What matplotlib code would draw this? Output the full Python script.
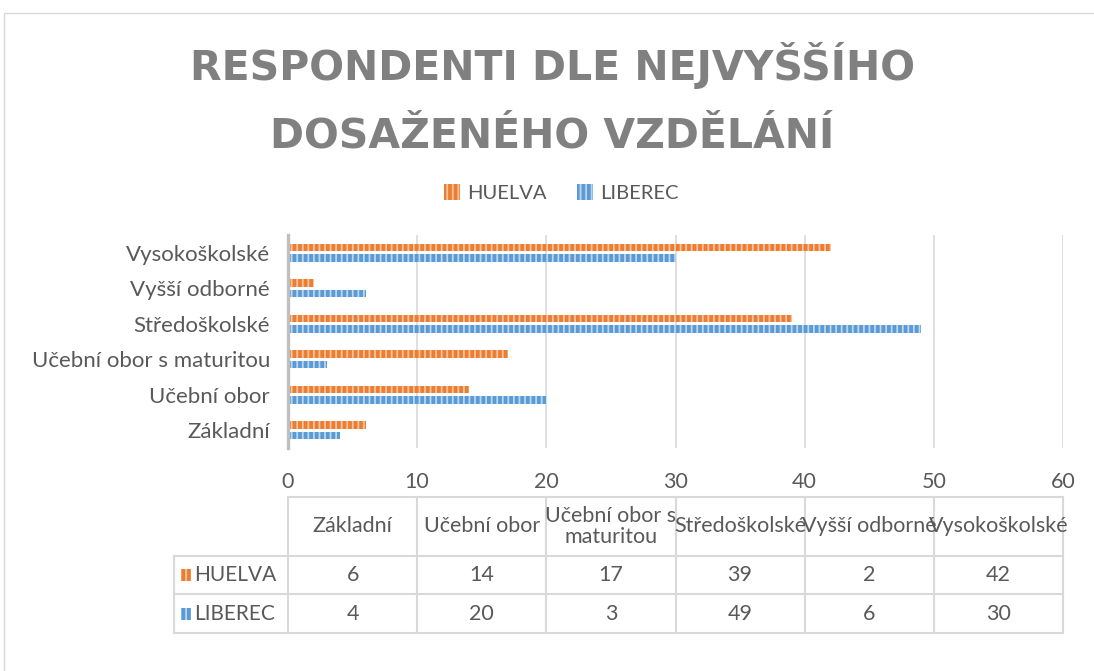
import matplotlib
matplotlib.use('Agg')
import matplotlib.pyplot as plt
import matplotlib.transforms as mtransforms
from matplotlib.patches import Rectangle
import numpy as np

plt.rcParams['font.family'] = ['Lato', 'DejaVu Sans']
plt.rcParams['hatch.linewidth'] = 1.3

# data
categories = ['Základní', 'Učební obor', 'Učební obor s maturitou',
              'Středoškolské', 'Vyšší odborné', 'Vysokoškolské']
header_labels = ['Základní', 'Učební obor', 'Učební obor s\nmaturitou',
                 'Středoškolské', 'Vyšší odborné', 'Vysokoškolské']
huelva = [6, 14, 17, 39, 2, 42]
liberec = [4, 20, 3, 49, 6, 30]
series_names = ['HUELVA', 'LIBEREC']

orange, orange_l = '#ED7D31', '#F6C4A0'
blue, blue_l = '#5B9BD5', '#BCD6EF'
txt = '#595959'
grid = '#D9D9D9'

W, H = 1094, 671
fig = plt.figure(figsize=(W / 100, H / 100), dpi=100)

# outer chart border
fig.patches.append(Rectangle((4 / W, -0.01), 1.02, 1 - 13 / H + 0.01,
                             transform=fig.transFigure, fill=False,
                             edgecolor=grid, lw=1))

ax = fig.add_axes([288 / W, 1 - 448 / H, (1063 - 288) / W, 213 / H])

y = np.arange(len(categories))
hb = ax.barh(y + 0.15, huelva, height=0.22, color=orange, edgecolor=orange_l,
             hatch='|||', lw=0, label=series_names[0], zorder=3)
lb = ax.barh(y - 0.15, liberec, height=0.22, color=blue, edgecolor=blue_l,
             hatch='|||', lw=0, label=series_names[1], zorder=3)

ax.set_xlim(0, 60)
ax.set_ylim(-0.5, 5.5)
ax.set_xticks(range(0, 61, 10))
ax.set_yticks(y)
ax.set_yticklabels(categories)
ax.tick_params(axis='y', length=0, pad=13, labelsize=16, labelcolor=txt)
ax.tick_params(axis='x', length=0, pad=17, labelsize=15.5, labelcolor=txt)
ax.grid(axis='x', color=grid, lw=1.2, zorder=0)
for s in ['top', 'right', 'bottom']:
    ax.spines[s].set_visible(False)
ax.spines['left'].set_color('#BFBFBF')
ax.spines['left'].set_linewidth(2.4)
ax.spines['left'].set_zorder(4)

fig.text(0.505, 1 - 99 / H, 'RESPONDENTI DLE NEJVYŠŠÍHO\nDOSAŽENÉHO VZDĚLÁNÍ',
         ha='center', va='center', fontsize=29.5, fontweight='bold',
         color='#808080', linespacing=1.9, family=['DejaVu Sans'])

fig.legend(handles=[hb, lb], loc='center', bbox_to_anchor=(561 / W, 1 - 193 / H),
           ncol=2, frameon=False, fontsize=14.5, labelcolor=txt,
           handlelength=0.8, handleheight=0.8, handletextpad=0.35,
           columnspacing=1.5)

# data table under the axis
tr = mtransforms.blended_transform_factory(ax.transData, fig.transFigure)
def fy(px):
    return 1 - px / H

x_lab = -8.85
rows_px = [497, 556, 594, 633]
kw = dict(color=grid, lw=1.5, transform=tr, clip_on=False)
ax.plot([0, 60], [fy(rows_px[0])] * 2, **kw)
for r in rows_px[1:]:
    ax.plot([x_lab, 60], [fy(r)] * 2, **kw)
for c in range(0, 61, 10):
    ax.plot([c, c], [fy(rows_px[0]), fy(rows_px[-1])], **kw)
ax.plot([x_lab, x_lab], [fy(rows_px[1]), fy(rows_px[-1])], **kw)

for i, lab in enumerate(header_labels):
    ax.text(i * 10 + 5, fy((rows_px[0] + rows_px[1]) / 2), lab, transform=tr,
            ha='center', va='center', fontsize=15.5, color=txt,
            linespacing=1.05, clip_on=False)

row_cols = [(orange, orange_l), (blue, blue_l)]
for k, vals in enumerate([huelva, liberec]):
    yc = fy((rows_px[k + 1] + rows_px[k + 2]) / 2)
    for i, v in enumerate(vals):
        ax.text(i * 10 + 5, yc, str(v), transform=tr, ha='center', va='center',
                fontsize=15.5, color=txt, clip_on=False)
    sq = Rectangle((181 / W, yc - 6 / H), 10 / W, 12 / H,
                   transform=fig.transFigure, facecolor=row_cols[k][0],
                   edgecolor=row_cols[k][1], hatch='|||', lw=0)
    fig.patches.append(sq)
    fig.text(194 / W, yc, series_names[k], ha='left', va='center',
             fontsize=15, color=txt)

fig.savefig('out.png', dpi=100)
